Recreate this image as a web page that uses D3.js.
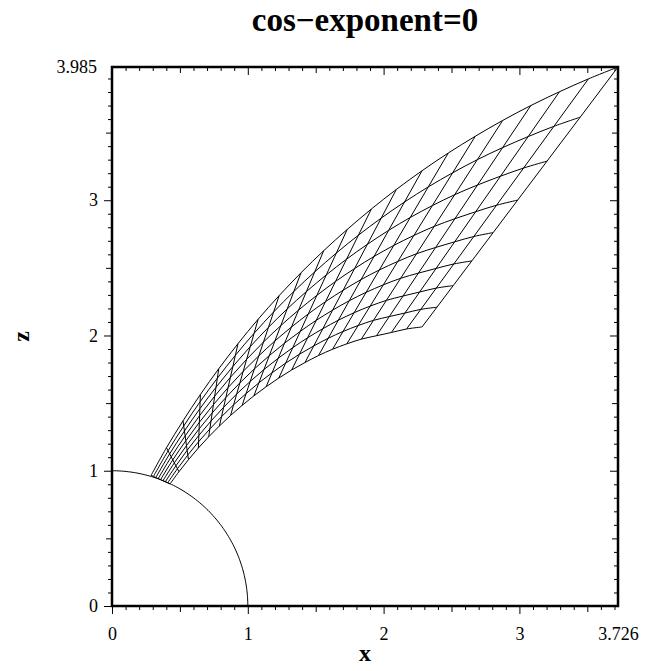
<!DOCTYPE html>
<html><head><meta charset="utf-8">
<script src="https://cdn.jsdelivr.net/npm/d3@7"></script>
<style>
body{margin:0;background:#fff}
text{font-family:"Liberation Serif","Times New Roman",serif}
</style>
</head><body>
<svg id="c" width="665" height="671"></svg>
<script>
// ---------- data ----------
const titleText = "cos\u2212exponent=0";
const xLabel = "x", zLabel = "z";
const xMax = 3.726, zMax = 3.985;
const majorTicks = [0, 1, 2, 3];
const circleRadius = 1;
// upper (outer) boundary of the mesh, one node per cross line
const upperX = [0.288,0.401,0.523,0.651,0.786,0.928,1.076,1.231,1.392,1.559,1.732,1.910,2.094,2.283,2.476,2.675,2.877,3.084,3.295,3.508,3.726];
const upperZ = [0.966,1.170,1.369,1.564,1.754,1.940,2.120,2.295,2.464,2.627,2.784,2.935,3.080,3.218,3.349,3.473,3.590,3.700,3.802,3.897,3.985];
// lower (inner) boundary of the mesh
const lowerX = [0.427,0.493,0.563,0.636,0.712,0.791,0.873,0.958,1.045,1.135,1.228,1.323,1.421,1.521,1.624,1.729,1.836,1.947,2.057,2.169,2.283];
const lowerZ = [0.902,0.993,1.082,1.168,1.251,1.331,1.409,1.483,1.554,1.621,1.685,1.745,1.800,1.852,1.898,1.938,1.973,1.998,2.022,2.048,2.063];
// positions of the long mesh lines across the first (on the sphere) and the last cross line
// (0 = lower boundary, 1 = upper boundary)
const fanFracStart = [0, 0.125, 0.25, 0.375, 0.5, 0.625, 0.75, 0.875, 1];
const fanFracEnd   = [0, 0.076, 0.159, 0.254, 0.363, 0.488, 0.638, 0.807, 1];

// ---------- layout ----------
const svg = d3.select("#c");
const L = 112, R = 618, T = 67, B = 606;
const x = d3.scaleLinear().domain([0, xMax]).range([L, R]);
const z = d3.scaleLinear().domain([0, zMax]).range([B, T]);

svg.append("clipPath").attr("id","pc").append("rect")
  .attr("x", L).attr("y", T).attr("width", R-L).attr("height", B-T);

const plot = svg.append("g").attr("clip-path","url(#pc)");
const line = d3.line().x(d => x(d[0])).y(d => z(d[1]));
const smooth = d3.line().x(d => x(d[0])).y(d => z(d[1])).curve(d3.curveCatmullRom.alpha(0.5));

// quarter circle
const arcPts = d3.range(0, 91).map(a => [circleRadius*Math.cos(a*Math.PI/180), circleRadius*Math.sin(a*Math.PI/180)]);
plot.append("path").attr("d", line(arcPts)).attr("fill","none").attr("stroke","#000").attr("stroke-width",1);

// mesh
const nJ = upperX.length;
const node = (i, j) => {
  const w = j/(nJ-1);
  const f = fanFracStart[i]*(1-w) + fanFracEnd[i]*w;
  return [lowerX[j] + f*(upperX[j]-lowerX[j]), lowerZ[j] + f*(upperZ[j]-lowerZ[j])];
};
fanFracEnd.forEach((f, i) => {
  const pts = d3.range(nJ).map(j => node(i, j));
  plot.append("path").attr("d", smooth(pts)).attr("fill","none").attr("stroke","#000").attr("stroke-width",1);
});
d3.range(nJ).forEach(j => {
  const pts = fanFracEnd.map((f, i) => node(i, j));
  plot.append("path").attr("d", line(pts)).attr("fill","none").attr("stroke","#000").attr("stroke-width",1);
});

// ---------- axes ----------
const tickSet = (max) => {
  const all = d3.range(1, Math.floor(max*10)+1).map(k => k/10);
  const medium = all.filter(v => Math.abs(v*2 - Math.round(v*2)) < 1e-6 && Math.abs(v - Math.round(v)) > 1e-6);
  const minor = all.filter(v => Math.abs(v*2 - Math.round(v*2)) > 1e-6);
  return {minor, medium};
};
const xs = tickSet(xMax), zs = tickSet(zMax);
const LEN = {minor: 4, medium: 6, major: 8};

function drawAxis(gen, scale, vals, size, transform, labels, pad) {
  const a = gen(scale).tickValues(vals).tickSize(size).tickSizeOuter(0);
  if (labels) a.tickFormat(labels).tickPadding(pad); else a.tickFormat("");
  const g = svg.append("g").attr("transform", transform).call(a);
  g.select(".domain").remove();
  g.selectAll("line").attr("stroke","#000").attr("stroke-width",1);
  g.selectAll("text").attr("fill","#000").attr("font-size", 18).attr("font-family",'"Liberation Serif",serif');
  return g;
}
// bottom (outward)
drawAxis(d3.axisBottom, x, xs.minor, LEN.minor, `translate(0,${B})`);
drawAxis(d3.axisBottom, x, xs.medium, LEN.medium, `translate(0,${B})`);
drawAxis(d3.axisBottom, x, majorTicks, LEN.major, `translate(0,${B})`, d3.format("d"), 13);
drawAxis(d3.axisBottom, x, [xMax], 0, `translate(0,${B})`, d => String(xMax), 21);
// top (inward)
drawAxis(d3.axisTop, x, xs.minor, -LEN.minor, `translate(0,${T})`);
drawAxis(d3.axisTop, x, xs.medium, -LEN.medium, `translate(0,${T})`);
drawAxis(d3.axisTop, x, majorTicks, -LEN.major, `translate(0,${T})`);
// left (outward)
drawAxis(d3.axisLeft, z, zs.minor, LEN.minor, `translate(${L},0)`);
drawAxis(d3.axisLeft, z, zs.medium, LEN.medium, `translate(${L},0)`);
drawAxis(d3.axisLeft, z, majorTicks, LEN.major, `translate(${L},0)`, d3.format("d"), 6);
drawAxis(d3.axisLeft, z, [zMax], 0, `translate(${L},0)`, d => String(zMax), 15);
// right (inward)
drawAxis(d3.axisRight, z, zs.minor, -LEN.minor, `translate(${R},0)`);
drawAxis(d3.axisRight, z, zs.medium, -LEN.medium, `translate(${R},0)`);
drawAxis(d3.axisRight, z, majorTicks, -LEN.major, `translate(${R},0)`);

// frame
svg.append("rect").attr("x", L).attr("y", T).attr("width", R-L).attr("height", B-T)
  .attr("fill","none").attr("stroke","#000").attr("stroke-width",2.5);

// titles
svg.append("text").attr("x", (L+R)/2).attr("y", 31).attr("text-anchor","middle")
  .attr("font-weight","bold").attr("font-size", 33).text(titleText);
svg.append("text").attr("x", (L+R)/2).attr("y", 661).attr("text-anchor","middle")
  .attr("font-weight","bold").attr("font-size", 24).text(xLabel);
svg.append("text").attr("transform", `translate(29,${(T+B)/2}) rotate(-90)`).attr("text-anchor","middle")
  .attr("font-weight","bold").attr("font-size", 24).text(zLabel);
</script>
</body></html>
